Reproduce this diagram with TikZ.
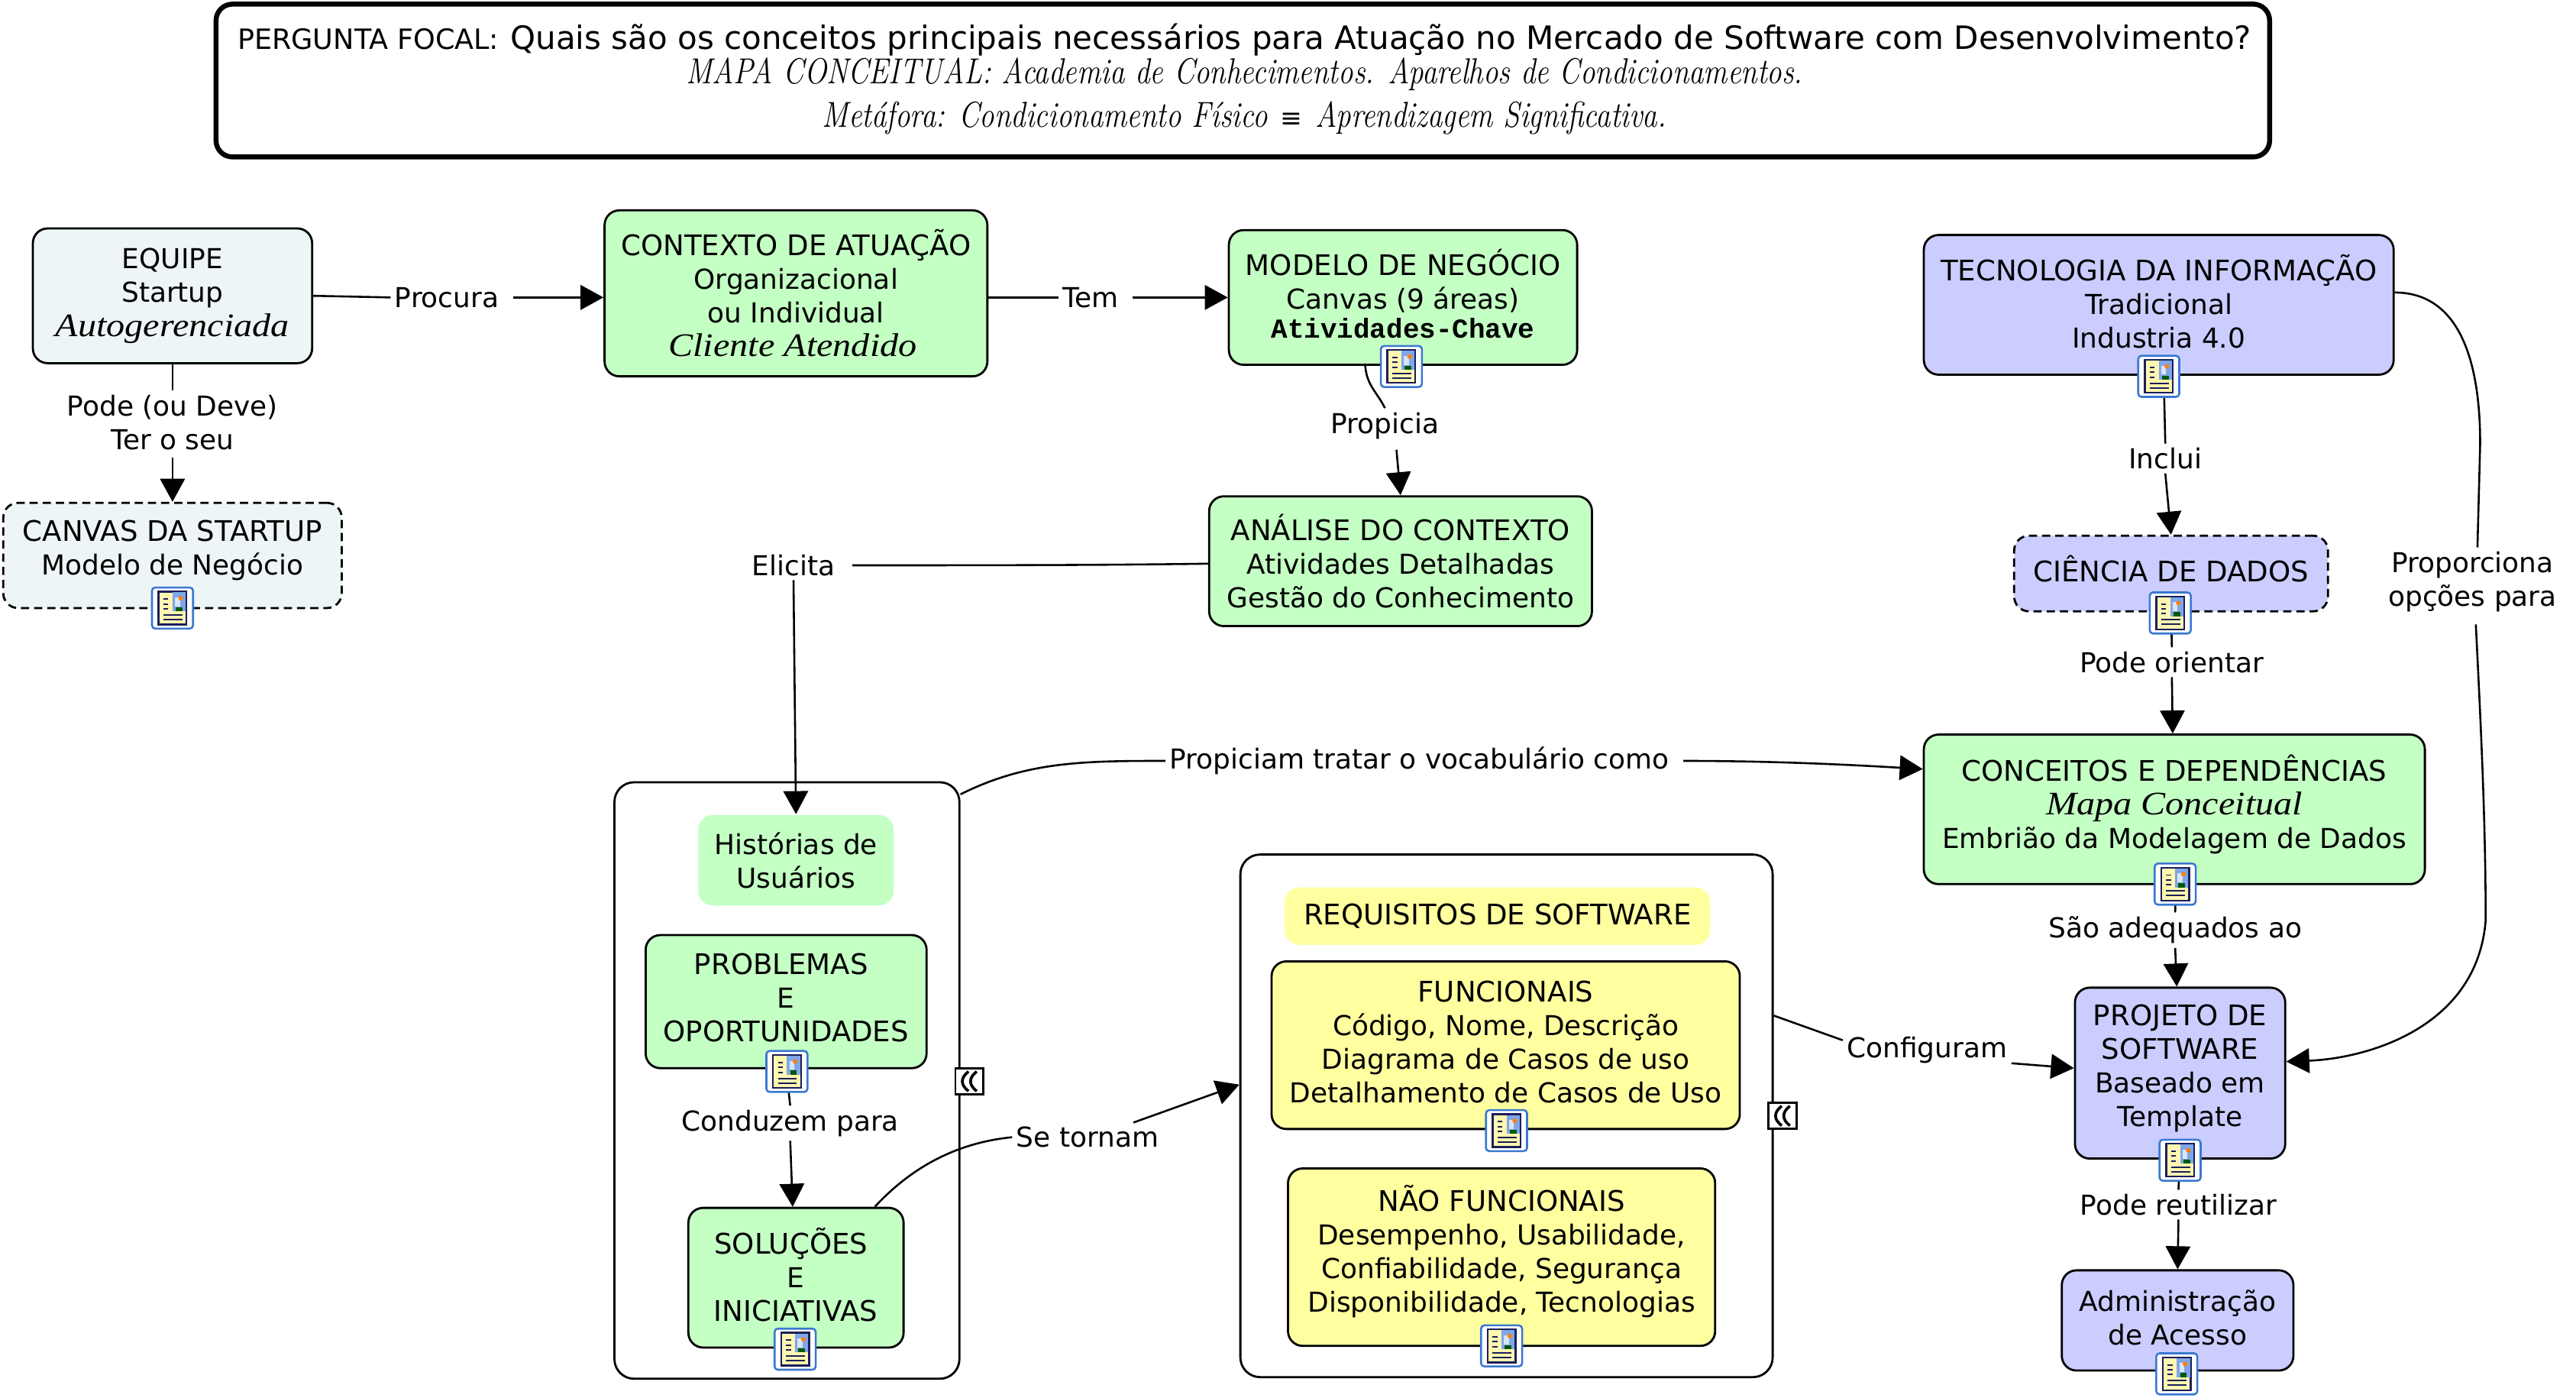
\documentclass[tikz,border=0pt]{standalone}
\usepackage{fontspec}
\usetikzlibrary{arrows.meta}
\setmainfont{DejaVu Sans}
\newfontfamily\cursivefont[FakeStretch=1.12]{Liberation Serif}
\newfontfamily\handfont[FakeStretch=.824]{Latin Modern Roman}
\newfontfamily\codefont{Liberation Mono}
\definecolor{palebox}{HTML}{EDF5F6}
\definecolor{greenbox}{HTML}{C4FFC4}
\definecolor{bluebox}{HTML}{CBCDFF}
\definecolor{yellowbox}{HTML}{FFFFA0}
\definecolor{iconblue}{HTML}{3A78D0}
\definecolor{iconnavy}{HTML}{1A1F5A}
\definecolor{iconcream}{HTML}{FFF6B0}
\definecolor{iconsky}{HTML}{7FA6E8}
\newcommand{\mapfont}{\fontsize{16.7}{20.5}\selectfont}
\newcommand{\heading}[1]{{\fontsize{17.25}{20.5}\selectfont #1}}
\newcommand{\cursive}[1]{{\cursivefont\itshape\fontsize{20}{20.5}\selectfont #1}}
\newcommand{\hand}[1]{{\handfont\itshape\fontsize{22}{24}\selectfont #1}}
\tikzset{
  conceptbox/.style={draw, rounded corners=9pt, line width=1.3pt, inner sep=0pt, align=center, font=\mapfont},
  softbox/.style={rounded corners=9pt, inner sep=0pt, align=center, font=\mapfont},
  groupbox/.style={draw, fill=white, rounded corners=12pt, line width=1.3pt, inner sep=0pt},
  linklabel/.style={inner sep=2pt, align=center, font=\mapfont},
  noteicon/.pic={
    \draw[iconblue, fill=white, line width=1.2pt, rounded corners=2pt] (-12.5,-12.5) rectangle (12.5,12.5);
    \draw[iconnavy, fill=iconcream, line width=1.1pt] (-8.5,-10) rectangle (8.5,10);
    \fill[iconsky] (0,-9.5) rectangle (8,2);
    \fill[white!70!iconsky] (1.5,-6.5) rectangle (4.5,-1);
    \fill[green!35!black] (2,-.5) rectangle (6,2);
    \fill[orange] (5,-6) circle (1.4);
    \draw[iconnavy, line width=.9pt] (-5.5,-5.5)--(-2.5,-5.5) (-5.5,-2.5)--(-2.5,-2.5) (-5.5,.5)--(-2.5,.5) (-5.5,4.2)--(6,4.2) (-5.5,7)--(6,7);
  },
  foldbutton/.pic={
    \draw[fill=white, line width=1.3pt] (-8.5,-8) rectangle (8.5,8);
    \draw[line width=1.7pt] (-.5,-6) .. controls (-5.5,-2) and (-5.5,2) .. (-.5,6);
    \draw[line width=1.7pt] (4.5,-6) .. controls (-.5,-2) and (-.5,2) .. (4.5,6);
  }
}
\begin{document}
\begin{tikzpicture}[x=1pt, y=-1pt, >={Triangle[length=14pt,width=15pt]}, line width=1.2pt]
\useasboundingbox (0,0) rectangle (1568,850.7);

% title
\node[draw, fill=white, rounded corners=10pt, line width=3pt, minimum width=1250pt, minimum height=93pt] (title) at (756.5,49) {};
\node[inner sep=0pt] (focal) at (757.5,24) {{\fontsize{17}{18}\selectfont PERGUNTA FOCAL:}\hspace{7pt}{\fontsize{19.53}{22}\selectfont Quais são os conceitos principais necessários para Atuação no Mercado de Software com Desenvolvimento?}};
\node[inner sep=0pt] (mapa) at (757.5,45) {\hand{MAPA CONCEITUAL: Academia de Conhecimentos. Aparelhos de Condicionamentos.}};
\node[inner sep=0pt] (metafora) at (757.5,72) {\hand{Metáfora: Condicionamento Físico}\hspace{8pt}{\fontsize{16}{18}\selectfont ≡}\hspace{8pt}\hand{Aprendizagem Significativa.}};

% groups
\node[groupbox, minimum width=210pt, minimum height=363pt] (negocio) at (479,657.5) {};
\node[groupbox, minimum width=324pt, minimum height=318pt] (requisitos) at (917,679) {};

% concepts
\node[conceptbox, fill=palebox, minimum width=170pt, minimum height=82pt] (equipe) at (105,180) {EQUIPE\\Startup\\\cursive{Autogerenciada}};
\node[conceptbox, fill=greenbox, minimum width=233pt, minimum height=101pt] (contexto) at (484.5,178.5) {\heading{CONTEXTO DE ATUAÇÃO}\\Organizacional\\ou Individual\\\cursive{Cliente Atendido}\hspace*{4pt}};
\node[conceptbox, fill=greenbox, minimum width=212pt, minimum height=82pt] (modelo) at (854,181) {\heading{MODELO DE NEGÓCIO}\\Canvas (9 áreas)\\[-3pt]{\codefont\bfseries Atividades-Chave}\\[-15.5pt]\mbox{}};
\node[conceptbox, fill=bluebox, minimum width=286pt, minimum height=85pt] (ti) at (1314,185.5) {\heading{TECNOLOGIA DA INFORMAÇÃO}\\Tradicional\\Industria 4.0\\[-16.5pt]\mbox{}};
\node[conceptbox, dash pattern=on 5pt off 3pt, fill=palebox, minimum width=206pt, minimum height=64pt] (canvas) at (105,338) {\heading{CANVAS DA STARTUP}\\Modelo de Negócio\\[-10.5pt]\mbox{}};
\node[conceptbox, fill=greenbox, minimum width=233pt, minimum height=79pt] (analise) at (852.5,341.5) {\heading{ANÁLISE DO CONTEXTO}\\Atividades Detalhadas\\Gestão do Conhecimento};
\node[conceptbox, dash pattern=on 5pt off 3pt, fill=bluebox, minimum width=191pt, minimum height=46pt] (ciencia) at (1321.5,349) {\heading{CIÊNCIA DE DADOS}\\[-14.5pt]\mbox{}};
\node[conceptbox, fill=greenbox, minimum width=305pt, minimum height=91pt] (conceitos) at (1323.5,492.5) {\heading{CONCEITOS E DEPENDÊNCIAS}\\\cursive{Mapa Conceitual}\\Embrião da Modelagem de Dados\\[-11pt]\mbox{}};
\node[softbox, fill=greenbox, minimum width=119pt, minimum height=55pt] (historias) at (484.5,523.5) {Histórias de\\Usuários};
\node[conceptbox, fill=greenbox, minimum width=171pt, minimum height=81pt] (problemas) at (478.5,609.5) {\heading{PROBLEMAS}\hspace*{6pt}\\E\hspace*{6pt}\\\heading{OPORTUNIDADES}\\[-15.5pt]\mbox{}};
\node[conceptbox, fill=greenbox, minimum width=131pt, minimum height=85pt] (solucoes) at (484.5,777.5) {\heading{SOLUÇÕES}\hspace*{6pt}\\E\hspace*{6pt}\\\heading{INICIATIVAS}\\[-16.5pt]\mbox{}};
\node[softbox, fill=yellowbox, minimum width=259pt, minimum height=35pt] (reqtitulo) at (911.5,557.5) {\heading{REQUISITOS DE SOFTWARE}\\[-18.5pt]\mbox{}};
\node[conceptbox, fill=yellowbox, minimum width=285pt, minimum height=102pt] (funcionais) at (916.5,636) {\heading{FUNCIONAIS}\\Código, Nome, Descrição\\Diagrama de Casos de uso\\Detalhamento de Casos de Uso\\[-16.5pt]\mbox{}};
\node[conceptbox, fill=yellowbox, minimum width=260pt, minimum height=108pt] (naofuncionais) at (914,765) {\heading{NÃO FUNCIONAIS}\\Desempenho, Usabilidade,\\Confiabilidade, Segurança\\Disponibilidade, Tecnologias\\[-10pt]\mbox{}};
\node[conceptbox, fill=bluebox, minimum width=128pt, minimum height=104pt] (projeto) at (1327,653) {\heading{PROJETO DE}\\\heading{SOFTWARE}\\Baseado em\\Template\\[-11pt]\mbox{}};
\node[conceptbox, fill=bluebox, minimum width=141pt, minimum height=61pt] (admin) at (1325.5,803.5) {Administração\\de Acesso\\[-16.5pt]\mbox{}};

% link labels
\node[linklabel] (procura) at (272,181) {Procura};
\node[linklabel] (tem) at (664,181) {Tem};
\node[linklabel] (podeter) at (105,257) {Pode (ou Deve)\\Ter o seu};
\node[linklabel] (propicia) at (843,259) {Propicia};
\node[linklabel] (elicita) at (483,344) {Elicita};
\node[linklabel] (inclui) at (1318,279) {Inclui};
\node[linklabel] (orientar) at (1322,403) {Pode orientar};
\node[linklabel] (proporciona) at (1505,354) {Proporciona\\opções para};
\node[linklabel] (tratar) at (864,463) {Propiciam tratar o vocabulário como};
\node[linklabel] (conduzem) at (481,683.5) {Conduzem para};
\node[linklabel] (setornam) at (662,692) {Se tornam};
\node[linklabel] (configuram) at (1173,639) {Configuram};
\node[linklabel] (adequados) at (1324,566) {São adequados ao};
\node[linklabel] (reutilizar) at (1326,733) {Pode reutilizar};

% links
\draw (equipe.east) -- (procura.west);
\draw[->] ([xshift=6pt]procura.east) -- ([yshift=-2.5pt]contexto.west);
\draw ([yshift=-2.5pt]contexto.east) -- (tem.west);
\draw[->] ([xshift=6pt]tem.east) -- (modelo.west);
\draw (equipe.south) -- (podeter.north);
\draw[->] ([yshift=-2pt]podeter.south) -- (canvas.north);
\draw ([xshift=-23pt]modelo.south) .. controls +(1,12) and +(-5,-10) .. (propicia.north);
\draw[->] ([xshift=7pt,yshift=-4pt]propicia.south) -- (analise.north);
\draw ([yshift=-1.5pt]analise.west) .. controls +(-70,1) and +(70,0) .. ([xshift=8pt]elicita.east);
\draw[->] (elicita.south) -- (historias.north);
\draw ([xshift=3pt]ti.south) -- (inclui.north);
\draw[->] (inclui.south) -- (ciencia.north);
\draw (ciencia.south) -- (orientar.north);
\draw[->] (orientar.south) -- ([xshift=-1pt]conceitos.north);
\draw ([yshift=7.5pt]ti.east) .. controls +(37,0) and +(0,-55) .. +(52,92) -- ([xshift=3pt]proporciona.north);
\draw[->] ([xshift=2pt,yshift=-5pt]proporciona.south) .. controls +(3,60) and +(0,-60) .. +(6,180) .. controls +(-5,65) and +(50,-2) .. ([yshift=7pt]projeto.east);
\draw ([yshift=-8pt]negocio.north east) .. controls +(40,-20) and +(-50,0) .. (tratar.west);
\draw[->] ([xshift=6pt]tratar.east) .. controls +(50,0) and +(-50,-3) .. ([yshift=24.5pt]conceitos.west);
\draw (problemas.south) -- (conduzem.north);
\draw[->] (conduzem.south) -- ([xshift=-2pt]solucoes.north);
\draw ([xshift=48pt]solucoes.north) .. controls +(25,-27) and +(-30,3) .. (setornam.west);
\draw[->] ([xshift=-18pt]setornam.north east) -- ([yshift=19pt]requisitos.west);
\draw ([yshift=61pt]requisitos.east) -- ([yshift=6pt]configuram.west);
\draw[->] ([yshift=-8pt]configuram.east) -- ([yshift=3pt]projeto.west);
\draw ([xshift=1pt]conceitos.south) -- (adequados.north);
\draw[->] (adequados.south) -- ([xshift=-2pt]projeto.north);
\draw (projeto.south) -- (reutilizar.north);
\draw[->] (reutilizar.south) -- (admin.north);

% icons and buttons
\foreach \ix/\iy in {853/223, 105/370, 1314/229, 1321/373, 1324/538, 479/652, 484/821, 917/688, 914/819, 1327/706, 1325/836}
  \pic at (\ix,\iy) {noteicon};
\pic at (590,658) {foldbutton};
\pic at (1085,679) {foldbutton};
\end{tikzpicture}
\end{document}
